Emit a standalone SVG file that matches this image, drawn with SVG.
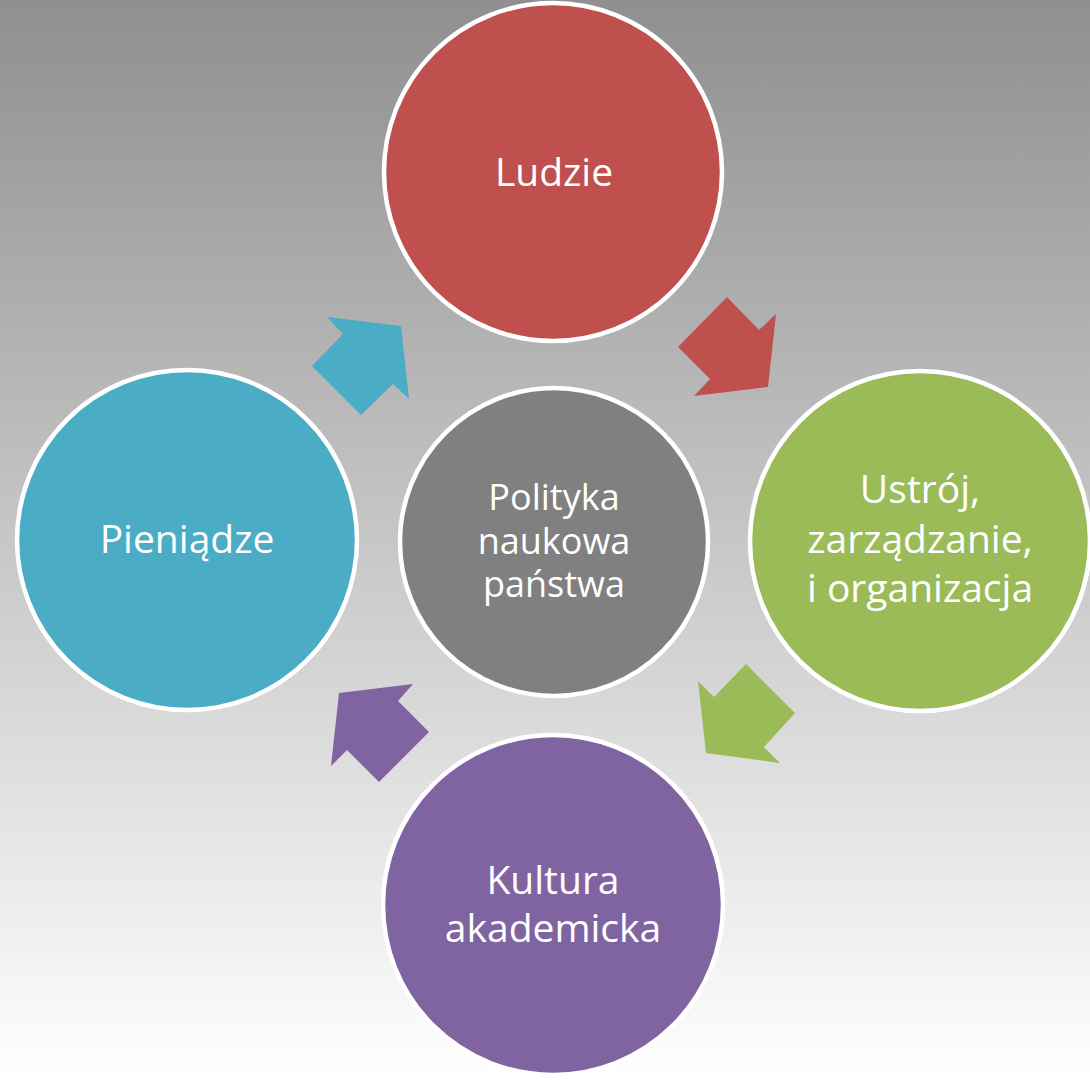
<svg xmlns="http://www.w3.org/2000/svg" width="1090" height="1080" viewBox="0 0 1090 1080">
<defs>
<linearGradient id="bg" x1="0" y1="0" x2="0" y2="1">
<stop offset="0" stop-color="#8f8f8f"/>
<stop offset="1" stop-color="#ffffff"/>
</linearGradient>
</defs>
<style>
.c{stroke:#ffffff;stroke-width:4.5}
.t{font-family:"Open Sans","Noto Sans",sans-serif;font-size:39px;fill:#ffffff;text-anchor:middle}
.s{font-size:36px}
</style>
<rect x="0" y="0" width="1090" height="1080" fill="url(#bg)"/>
<g id="connectors">
<polygon points="727,297 759,330 776,314 768,387 694,396 710,379 678,347" fill="#C0504D"/>
<polygon points="746,664 795,713 764,747 780,763 706,753 698,681 714,697" fill="#9BBB59"/>
<polygon points="413,684 398,701 429,732 379,782 347,750 331,766 339,693" fill="#8064A2"/>
<polygon points="327,317 401,326 409,399 393,384 361,415 312,366 343,334" fill="#4BACC6"/>
</g>
<g id="center">
<circle class="c" cx="554" cy="542" r="154" fill="#808080"/>
<text class="t s" x="554" y="510">Polityka</text>
<text class="t s" x="554" y="554">naukowa</text>
<text class="t s" x="554" y="597">państwa</text>
</g>
<g id="ludzie">
<circle class="c" cx="553" cy="172" r="169" fill="#C0504D"/>
<text class="t" x="554" y="186">Ludzie</text>
</g>
<g id="ustroj">
<circle class="c" cx="920" cy="541" r="170" fill="#9BBB59"/>
<text class="t" x="920" y="503">Ustrój,</text>
<text class="t" x="920" y="553">zarządzanie,</text>
<text class="t" x="920" y="602">i organizacja</text>
</g>
<g id="kultura">
<circle class="c" cx="553" cy="905" r="170" fill="#8064A2"/>
<text class="t" x="553" y="894">Kultura</text>
<text class="t" x="553" y="942">akademicka</text>
</g>
<g id="pieniadze">
<circle class="c" cx="187" cy="540" r="170" fill="#4BACC6"/>
<text class="t" x="187" y="553">Pieniądze</text>
</g>
</svg>
